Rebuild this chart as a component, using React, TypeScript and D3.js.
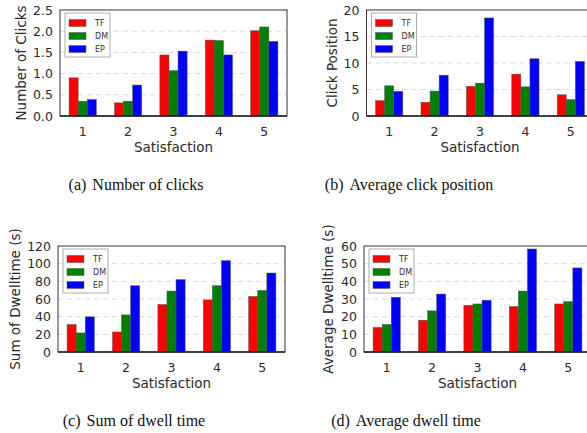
import React from "react";
import * as d3 from "d3";

const categories = [1, 2, 3, 4, 5];
const seriesNames = ["TF", "DM", "EP"];
const seriesColors = ["#ff0000", "#008000", "#0000ff"];

// (a) number of clicks
const clicksTF = [0.9, 0.31, 1.44, 1.79, 2.01];
const clicksDM = [0.35, 0.35, 1.07, 1.78, 2.1];
const clicksEP = [0.39, 0.73, 1.53, 1.44, 1.76];

// (b) average click position
const posTF = [2.9, 2.6, 5.6, 7.9, 4.0];
const posDM = [5.7, 4.7, 6.2, 5.5, 3.1];
const posEP = [4.65, 7.7, 18.5, 10.8, 10.3];

// (c) sum of dwell time
const sumTF = [31, 22.7, 53.8, 59, 62.9];
const sumDM = [21.6, 42, 69, 75, 69.7];
const sumEP = [39.8, 75, 82, 103.4, 89.4];

// (d) average dwell time
const avgTF = [13.9, 18, 26.4, 25.7, 27.2];
const avgDM = [15.6, 23.3, 27.2, 34.5, 28.5];
const avgEP = [31, 32.8, 29.3, 58.3, 47.6];

const clickTicks = [0, 0.5, 1.0, 1.5, 2.0, 2.5];
const posTicks = [0, 5, 10, 15, 20];
const sumTicks = [0, 20, 40, 60, 80, 100, 120];
const avgTicks = [0, 10, 20, 30, 40, 50, 60];

const panels = [
  {
    series: [clicksTF, clicksDM, clicksEP], ticks: clickTicks, fmt: d3.format(".1f"),
    ylabel: "Number of Clicks", tag: "(a)", caption: "Number of clicks",
    left: 60, top: 10, width: 227, height: 106, labelX: 21, capX: 136, capY: 190, clipY: 0,
  },
  {
    series: [posTF, posDM, posEP], ticks: posTicks, fmt: d3.format("d"),
    ylabel: "Click Position", tag: "(b)", caption: "Average click position",
    left: 366.5, top: 10, width: 227, height: 106, labelX: 332, capX: 409, capY: 190, clipY: 0,
  },
  {
    series: [sumTF, sumDM, sumEP], ticks: sumTicks, fmt: d3.format("d"),
    ylabel: "Sum of Dwelltime (s)", tag: "(c)", caption: "Sum of dwell time",
    left: 58, top: 246, width: 227, height: 106, labelX: 15, capX: 134, capY: 426, clipY: 225,
  },
  {
    series: [avgTF, avgDM, avgEP], ticks: avgTicks, fmt: d3.format("d"),
    ylabel: "Average Dwelltime (s)", tag: "(d)", caption: "Average dwell time",
    left: 364, top: 246, width: 227, height: 106, labelX: 328, capX: 406, capY: 426, clipY: 225,
  },
];

const sans = "DejaVu Sans, sans-serif";
const serif = "Liberation Serif, serif";

function Panel({ p, idx }: { p: any; idx: number }) {
  const x = d3.scaleLinear().domain([0.5, 5.5]).range([0, p.width]);
  const y = d3.scaleLinear().domain([0, p.ticks[p.ticks.length - 1]]).range([p.height, 0]);
  const barW = x(0.7) - x(0.5);
  const offsets = [-0.2, 0, 0.2];
  const clipId = "ylab-clip-" + idx;

  return (
    <g>
      <defs>
        <clipPath id={clipId}>
          <rect x={0} y={p.clipY} width={587} height={433 - p.clipY} />
        </clipPath>
      </defs>
      <g transform={`translate(${p.left},${p.top})`}>
        {p.ticks.slice(1, -1).map((t: number) => (
          <line key={t} x1={0} x2={p.width} y1={y(t)} y2={y(t)}
            stroke="#d9d9d9" strokeWidth={1} strokeDasharray="5,4" />
        ))}
        {p.series.map((vals: number[], si: number) =>
          vals.map((v, i) => (
            <rect key={si + "-" + i}
              x={x(categories[i] + offsets[si]) - barW / 2} y={y(v)}
              width={barW} height={y(0) - y(v)}
              fill={seriesColors[si]} stroke="#555" strokeWidth={0.5} />
          ))
        )}
        <rect x={0} y={0} width={p.width} height={p.height} fill="none" stroke="#333" strokeWidth={1} />
        <line x1={0} x2={p.width} y1={p.height} y2={p.height} stroke="#222" strokeWidth={1.5} />
        {p.ticks.map((t: number) => (
          <text key={t} x={-7} y={y(t)} textAnchor="end" dominantBaseline="central"
            fontFamily={sans} fontSize={12.5} fill="#2a2a2a">{p.fmt(t)}</text>
        ))}
        {categories.map((c) => (
          <text key={c} x={x(c)} y={p.height + 20} textAnchor="middle"
            fontFamily={sans} fontSize={12.5} fill="#2a2a2a">{c}</text>
        ))}
        <text x={p.width / 2} y={p.height + 36} textAnchor="middle"
          fontFamily={sans} fontSize={13.5} fill="#2a2a2a">Satisfaction</text>
        <g transform="translate(5,3)">
          <rect x={0} y={0} width={45} height={44} fill="white" stroke="#999" strokeWidth={0.8} />
          {seriesNames.map((s, i) => (
            <g key={s} transform={`translate(0,${10 + i * 13})`}>
              <rect x={4} y={-3.5} width={17} height={7} fill={seriesColors[i]} stroke="#555" strokeWidth={0.5} />
              <text x={30} y={0} dominantBaseline="central" fontFamily={sans} fontSize={8} fill="#333">{s}</text>
            </g>
          ))}
        </g>
      </g>
      <g clipPath={`url(#${clipId})`}>
        <text transform={`translate(${p.labelX},${p.top + p.height / 2}) rotate(-90)`}
          textAnchor="middle" dominantBaseline="central" fontFamily={sans} fontSize={13.5} fill="#2a2a2a">
          {p.ylabel}
        </text>
      </g>
      <text x={p.capX} y={p.capY} textAnchor="middle" fontFamily={serif} fontSize={16} fill="#111">
        {p.tag}<tspan dx={6}>{p.caption}</tspan>
      </text>
    </g>
  );
}

export default function App() {
  return (
    <svg width={587} height={433} style={{ position: "absolute", left: 0, top: 0, background: "white" }}>
      <rect width={587} height={433} fill="white" />
      {panels.map((p, i) => (
        <Panel key={i} p={p} idx={i} />
      ))}
    </svg>
  );
}
